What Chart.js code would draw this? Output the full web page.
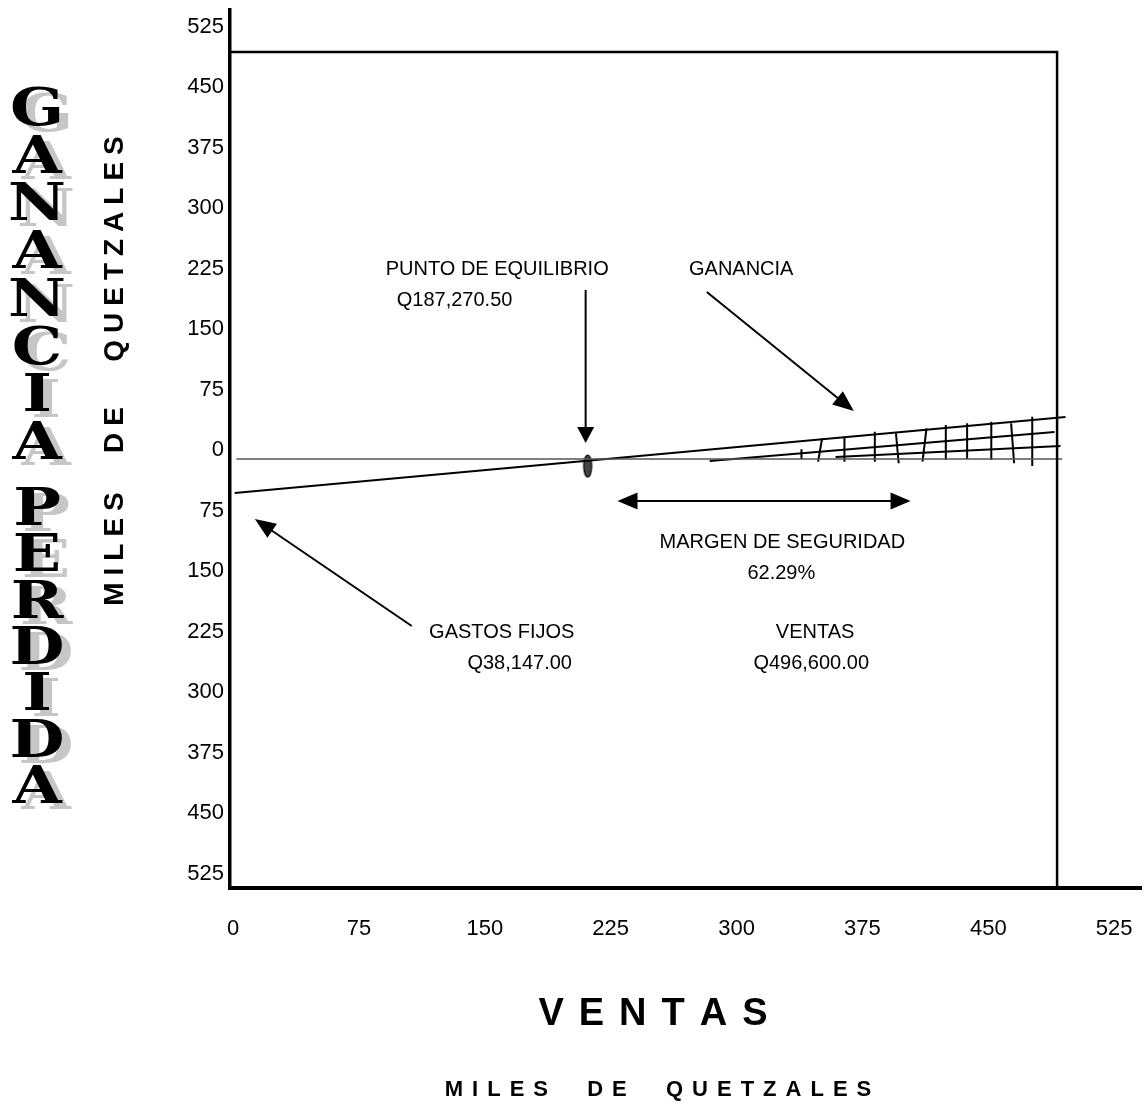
<!DOCTYPE html>
<html>
<head>
<meta charset="utf-8">
<title>Punto de equilibrio</title>
<script src="https://cdn.jsdelivr.net/npm/chart.js@4.4.1/dist/chart.umd.min.js"></script>
<style>
  html, body { margin: 0; padding: 0; background: #fff; }
  #grafica { display: block; }
</style>
</head>
<body>
<canvas id="grafica" width="1147" height="1106"></canvas>
<script>
// valores, en miles de quetzales
const xTicks = [0, 75, 150, 225, 300, 375, 450, 525];
const yTicks = [-525, -450, -375, -300, -225, -150, -75, 0, 75, 150, 225, 300, 375, 450, 525];

const xMin = -1.8, xMax = 541;
const yMin = -531.8, yMax = 556.6;

const ventasBorde = 491;    // linea vertical de ventas
const techo = 504.5;        // linea superior del cuadro

const ceroX = [2, 494];
const ceroY = [0, 0];
const costoX = [1, 496];
const costoY = [-42, 52];
const ingresoBX = [284, 489.5];
const ingresoBY = [-2.5, 33.5];
const ingresoCX = [359, 493];
const ingresoCY = [2.5, 16];

// rayado de la zona de ganancia
const rayaXArriba = [338.7, 351, 364.3, 382.4, 395, 413.2, 424.7, 437.4, 451.8, 463.6, 476.2];
const rayaXAbajo  = [338.7, 348.6, 364.3, 382.4, 396.6, 410.8, 424.7, 437.4, 451.8, 465.4, 476.2];
const rayaArriba  = [12, 25.7, 27.6, 33.8, 31.9, 38.1, 42.1, 44.3, 46.2, 44.3, 52.4];
const rayaAbajo   = [0, -3.3, -3.3, -3.3, -5.3, -3.3, -1.2, 0, -1.2, -5.3, -8.7];

const equilibrio = { x: 211.3, y: -8.7 };

// anotaciones (coordenadas en unidades de los ejes)
const flechas = [
  { desde: [210.1, 209.5], hasta: [210.1, 19.8], punta: 16 },
  { desde: [282.3, 207], hasta: [369.9, 59.5], punta: 21 },
  { desde: [106.5, -207], hasta: [13, -74.4], punta: 21 },
  { desde: [229.1, -52.1], hasta: [403.7, -52.1], punta: 20, doble: true },
];
const textos = [
  ['PUNTO DE EQUILIBRIO', 157.4, 236.8],
  ['Q187,270.50', 132, 198.3],
  ['GANANCIA', 302.8, 236.8],
  ['MARGEN DE SEGURIDAD', 327.3, -101.7],
  ['62.29%', 326.7, -140.1],
  ['GASTOS FIJOS', 160.1, -213.2],
  ['Q38,147.00', 170.8, -251.7],
  ['VENTAS', 346.8, -213.2],
  ['Q496,600.00', 344.5, -251.7],
];

const puntos = (xs, ys) => xs.map((x, i) => ({ x: x, y: ys[i] }));

function linea(data, extra) {
  return Object.assign({
    data: data,
    borderColor: '#000',
    borderWidth: 2,
    pointRadius: 0,
    fill: false,
    tension: 0
  }, extra || {});
}

// elipse del punto de equilibrio
const elipse = document.createElement('canvas');
elipse.width = 12;
elipse.height = 26;
const ec = elipse.getContext('2d');
ec.beginPath();
ec.ellipse(6, 13, 4, 11, 0, 0, Math.PI * 2);
ec.fillStyle = '#444';
ec.fill();
ec.lineWidth = 1.2;
ec.strokeStyle = '#000';
ec.stroke();

function flecha(ctx, x1, y1, x2, y2, largo, doble) {
  const a = Math.atan2(y2 - y1, x2 - x1);
  const c = Math.cos(a), s = Math.sin(a), w = 8.5;
  const punta = (tx, ty, dir) => {
    const bx = tx - dir * largo * c, by = ty - dir * largo * s;
    ctx.beginPath();
    ctx.moveTo(tx, ty);
    ctx.lineTo(bx + w * s, by - w * c);
    ctx.lineTo(bx - w * s, by + w * c);
    ctx.closePath();
    ctx.fill();
  };
  const ax = doble ? x1 + largo * 0.8 * c : x1, ay = doble ? y1 + largo * 0.8 * s : y1;
  ctx.beginPath();
  ctx.moveTo(ax, ay);
  ctx.lineTo(x2 - largo * 0.8 * c, y2 - largo * 0.8 * s);
  ctx.stroke();
  punta(x2, y2, 1);
  if (doble) punta(x1, y1, -1);
}

// texto con espacio entre letras, horizontal o girado
function espaciado(ctx, texto, cx, cy, sep, vertical, capa) {
  const letras = [...texto];
  const anchos = letras.map(l => ctx.measureText(l).width);
  const total = anchos.reduce((a, b) => a + b, 0) + sep * (letras.length - 1);
  let pos = -total / 2;
  letras.forEach((l, i) => {
    const medio = pos + anchos[i] / 2;
    ctx.save();
    if (vertical) {
      ctx.translate(cx, cy - medio);
      ctx.rotate(-Math.PI / 2);
    } else {
      ctx.translate(cx + medio, cy);
    }
    ctx.fillText(l, 0, capa / 2);
    ctx.restore();
    pos += anchos[i] + sep;
  });
}

const dibujos = {
  id: 'dibujos',
  afterDatasetsDraw(chart) {
    const { ctx, scales: { x, y } } = chart;
    ctx.save();
    ctx.strokeStyle = '#000';
    ctx.fillStyle = '#000';
    ctx.lineWidth = 2;
    flechas.forEach(f => {
      flecha(ctx, x.getPixelForValue(f.desde[0]), y.getPixelForValue(f.desde[1]),
        x.getPixelForValue(f.hasta[0]), y.getPixelForValue(f.hasta[1]), f.punta, f.doble);
    });
    ctx.font = '20px "Liberation Sans", Arial, sans-serif';
    ctx.textAlign = 'center';
    ctx.textBaseline = 'alphabetic';
    textos.forEach(t => {
      ctx.fillText(t[0], x.getPixelForValue(t[1]), y.getPixelForValue(t[2]) + 7);
    });
    ctx.restore();
  },
  afterDraw(chart) {
    const ctx = chart.ctx;
    ctx.save();
    ctx.textAlign = 'center';
    ctx.textBaseline = 'alphabetic';

    // GANANCIA / PERDIDA en columna, con sombra gris
    ctx.font = 'bold 52px "DejaVu Serif", serif';
    const columna = [];
    [...'GANANCIA'].forEach((l, i) => columna.push([l, 106 + i * 47.7]));
    [...'PERDIDA'].forEach((l, i) => columna.push([l, 506 + i * 46.3]));
    ['#c6c6c6', '#000'].forEach((color, k) => {
      ctx.fillStyle = color;
      columna.forEach(([l, cy]) => {
        ctx.save();
        ctx.translate(37 + (k ? 0 : 9), cy + 19 + (k ? 0 : 6));
        ctx.scale(1.22, 1);
        ctx.fillText(l, 0, 0);
        ctx.restore();
      });
    });

    ctx.fillStyle = '#000';
    ctx.font = 'bold 28px "Liberation Sans", Arial, sans-serif';
    espaciado(ctx, 'MILES', 112.5, 549, 7, true, 20);
    espaciado(ctx, 'DE', 112.5, 430, 7, true, 20);
    espaciado(ctx, 'QUETZALES', 112.5, 249, 7, true, 20);

    ctx.font = 'bold 38px "Liberation Sans", Arial, sans-serif';
    espaciado(ctx, 'VENTAS', 653, 1011, 15, false, 27);
    ctx.font = 'bold 22px "Liberation Sans", Arial, sans-serif';
    espaciado(ctx, 'MILES  DE  QUETZALES', 658, 1088, 9, false, 16);
    ctx.restore();
  }
};

Chart.defaults.font.family = '"Liberation Sans", Arial, sans-serif';
Chart.defaults.color = '#000';

const config = {
  type: 'line',
  data: {
    datasets: [
      linea([{ x: xMin, y: techo }, { x: ventasBorde, y: techo }, { x: ventasBorde, y: yMin }], { borderWidth: 2.5 }),
      linea(puntos(ceroX, ceroY), { borderColor: '#555', borderWidth: 1.5 }),
      linea(puntos(costoX, costoY)),
      linea(puntos(ingresoBX, ingresoBY)),
      linea(puntos(ingresoCX, ingresoCY)),
      ...rayaXArriba.map((xv, i) => linea([
        { x: xv, y: rayaArriba[i] },
        { x: rayaXAbajo[i], y: rayaAbajo[i] }
      ])),
      {
        data: [equilibrio],
        showLine: false,
        pointStyle: elipse,
        pointRadius: 5
      }
    ]
  },
  options: {
    responsive: false,
    devicePixelRatio: 1,
    animation: false,
    layout: { padding: { top: 10, left: 0, right: 0, bottom: 0 } },
    plugins: {
      legend: { display: false },
      tooltip: { enabled: false }
    },
    scales: {
      x: {
        type: 'linear',
        min: xMin,
        max: xMax,
        afterBuildTicks: s => { s.ticks = xTicks.map(v => ({ value: v })); },
        afterFit: s => { s.height = 218; s.paddingLeft = 0; s.paddingRight = 0; },
        grid: { display: false, drawTicks: false },
        border: { display: true, color: '#000', width: 4 },
        ticks: {
          padding: 28,
          autoSkip: false,
          maxRotation: 0,
          font: { size: 22 },
          callback: v => String(v)
        }
      },
      y: {
        type: 'linear',
        min: yMin,
        max: yMax,
        afterBuildTicks: s => { s.ticks = yTicks.map(v => ({ value: v })); },
        afterFit: s => { s.width = 230; s.paddingTop = 0; s.paddingBottom = 0; },
        grid: { display: false, drawTicks: false },
        border: { display: true, color: '#000', width: 3.5 },
        ticks: {
          padding: 6,
          labelOffset: -9,
          autoSkip: false,
          font: { size: 22 },
          callback: v => String(Math.abs(v))
        }
      }
    }
  },
  plugins: [dibujos]
};

var grafica = new Chart(document.getElementById('grafica'), config);
</script>
</body>
</html>
